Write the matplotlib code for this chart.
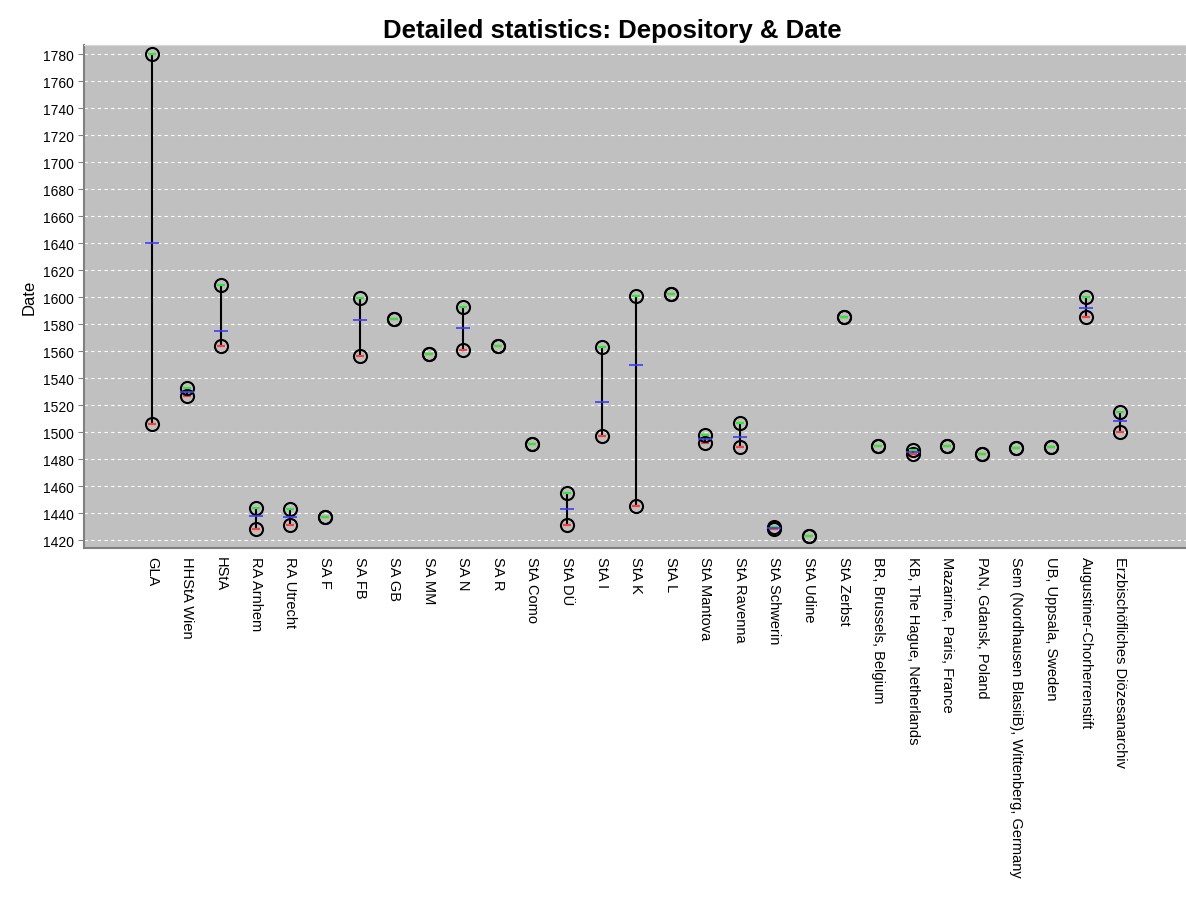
import numpy as np
import matplotlib.pyplot as plt

# --- Data: date range per depository ---
depositories = [
    "GLA", "HHStA Wien", "HStA", "RA Arnhem", "RA Utrecht", "SA F", "SA FB",
    "SA GB", "SA MM", "SA N", "SA R", "StA Como", "StA DÜ", "StA I", "StA K",
    "StA L", "StA Mantova", "StA Ravenna", "StA Schwerin", "StA Udine",
    "StA Zerbst", "BR, Brussels, Belgium", "KB, The Hague, Netherlands",
    "Mazarine, Paris, France", "PAN, Gdansk, Poland",
    "Sem (Nordhausen BlasiiB), Wittenberg, Germany", "UB, Uppsala, Sweden",
    "Augustiner-Chorherrenstift", "Erzbischöfliches Diözesanarchiv",
]
max_date = [1780, 1533, 1609, 1444, 1443, 1437, 1599, 1584, 1558, 1593, 1564,
            1491, 1455, 1563, 1601, 1602, 1498, 1507, 1430, 1423, 1585, 1490,
            1487, 1490, 1484, 1488, 1489, 1600, 1515]
min_date = [1506, 1527, 1564, 1428, 1431, 1437, 1556, 1584, 1558, 1561, 1564,
            1491, 1431, 1497, 1445, 1602, 1492, 1489, 1428, 1423, 1585, 1490,
            1484, 1490, 1484, 1488, 1489, 1585, 1500]
mean_date = [1640, 1530, 1575, 1438, 1437, 1437, 1583, 1584, 1558, 1577, 1564,
             1491, 1443, 1522, 1550, 1602, 1495, 1496, 1429, 1423, 1585, 1490,
             1485, 1490, 1484, 1488, 1489, 1592, 1508]

x = np.arange(len(depositories))
hi = np.array(max_date, dtype=float)
lo = np.array(min_date, dtype=float)
avg = np.array(mean_date, dtype=float)
spread = hi > lo

plt.rcParams['font.family'] = ['Liberation Sans', 'DejaVu Sans']

fig = plt.figure(figsize=(11.86, 9.03), dpi=100)
ax = fig.add_axes([0.0708, 0.392, 0.929, 0.557])
ax.set_facecolor('#c0c0c0')

# y grid: white dashed
for v in range(1420, 1781, 20):
    ax.axhline(v, color='white', linestyle=(0, (3, 3)), linewidth=0.8, zorder=1)

# high-low bars
ax.vlines(x[spread], lo[spread], hi[spread], color='black', linewidth=1.5, zorder=2)

# min markers
ax.plot(x, lo, 'o', ms=9.4, mfc='none', mec='black', mew=1.5, zorder=3)
ax.plot(x, lo, '_', ms=5.8, color='#ff3c3c', mew=1.6, zorder=4)
# max markers
ax.plot(x, hi, 'o', ms=9.4, mfc='none', mec='black', mew=1.5, zorder=5)
ax.plot(x, hi, '_', ms=5.8, color='#30e830', mew=1.6, zorder=6)
# mean markers
ax.plot(x[spread], avg[spread], '_', ms=10, color='#3c3cff', mew=1.2, zorder=7)

ax.set_xlim(-1.97, len(depositories) - 1 + 1.9)
ax.set_ylim(1414.1, 1786.7)
ax.set_yticks(range(1420, 1781, 20))
ax.tick_params(axis='y', labelsize=10, length=4, color='#808080', pad=3)
ax.set_xticks(x)
ax.set_xticklabels(depositories, rotation=-90, fontsize=10.5, va='top', ha='center')
ax.tick_params(axis='x', length=0, pad=6)
ax.set_ylabel('Date', fontsize=12, labelpad=5)

for side in ['left', 'bottom']:
    ax.spines[side].set_color('#808080')
    ax.spines[side].set_linewidth(1.5)
for side in ['top', 'right']:
    ax.spines[side].set_color('#d8d8d8')

fig.text(0.516, 0.966, 'Detailed statistics: Depository & Date', ha='center',
         va='center', fontsize=18.5, fontweight='bold')

fig.savefig('out.png', dpi=100, facecolor='white')
